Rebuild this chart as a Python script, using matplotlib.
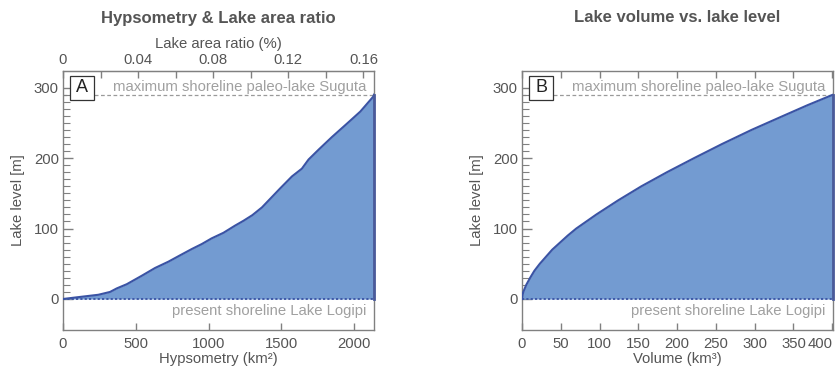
import matplotlib
matplotlib.use("Agg")
import matplotlib.pyplot as plt
from matplotlib.patches import Rectangle
from matplotlib.ticker import FixedLocator
import matplotlib.transforms as mtransforms

plt.rcParams['font.family'] = ['Liberation Sans', 'DejaVu Sans']

# Hypsometric curve: flooded area (km²) against lake level (m above present shoreline)
hyps_level = [0, 3, 6, 10, 15, 21, 33, 44, 53, 62, 71, 78, 86, 94, 104, 111, 119,
              130, 157, 174, 185, 198, 212, 230, 249, 266, 287, 290]
hyps_area = [0, 120, 243, 323, 369, 438, 541, 632, 724, 804, 885, 953, 1020, 1102,
             1180, 1239, 1300, 1366, 1491, 1572, 1640, 1686, 1755, 1847, 1950, 2041,
             2129, 2135]

# Level-volume curve: stored volume (km³) against lake level (m)
vol_level = [0, 5, 10, 20, 30, 40, 50, 60, 70, 80, 90, 100, 120, 140, 160, 180,
             200, 220, 240, 260, 275, 290]
vol_volume = [0, 0.6, 1.7, 5.5, 10.5, 16, 23, 31, 39, 49, 59, 70, 96, 124, 154,
              187, 222, 258, 296, 337, 368, 401]

MAX_SHORELINE = 290          # m, paleo-lake Suguta high stand
CATCHMENT_AREA = 1.289e6     # km², reference area for the ratio axis

area_ticks = [0, 500, 1000, 1500, 2000]
ratio_ticks = [0, 0.04, 0.08, 0.12, 0.16]
ratio_minor = [0.02, 0.06, 0.10, 0.14]
volume_ticks = [0, 50, 100, 150, 200, 250, 300, 350, 400]
level_ticks = [0, 100, 200, 300]
level_minor = [v for v in range(10, 300, 10) if v % 100]

FILL = '#739bd1'
EDGE = '#3a53a4'
RIGHT_EDGE = '#4a5a9a'
SPINE = '#808080'
TEXT = '#555555'
NOTE = '#a0a0a0'
FS = 10.7

fig = plt.figure(figsize=(8.35, 3.72), dpi=100)
axA = fig.add_axes([0.0754, 0.1129, 0.3725, 0.697])
axB = fig.add_axes([0.6251, 0.1129, 0.3725, 0.697])


def style_panel(ax, letter, xmax, xticks, xlabel):
    ax.set_xlim(0, xmax)
    ax.set_ylim(-44, 324)
    for s in ax.spines.values():
        s.set_color(SPINE)
        s.set_linewidth(1.0)
    ax.set_yticks(level_ticks)
    ax.yaxis.set_minor_locator(FixedLocator(level_minor))
    ax.tick_params(axis='y', which='major', direction='in', length=7, width=1,
                   color=SPINE, labelsize=FS, labelcolor=TEXT, pad=3)
    ax.tick_params(axis='y', which='minor', direction='in', length=5, width=0.8,
                   color=SPINE)
    ax.set_xticks(xticks)
    ax.tick_params(axis='x', which='major', direction='in', length=5, width=1,
                   color=SPINE, labelsize=FS, labelcolor=TEXT, pad=5)
    ax.set_xlabel(xlabel, fontsize=FS, color=TEXT, labelpad=1)
    ax.set_ylabel('Lake level [m]', fontsize=FS, color=TEXT, labelpad=6)

    ax.axhline(MAX_SHORELINE, color='#9a9a9a', lw=0.9, ls=(0, (3, 2)), zorder=1)
    ax.axhline(0, color=EDGE, lw=1.3, ls=(0, (1.2, 1.2)), zorder=4)

    tr = mtransforms.blended_transform_factory(ax.transAxes, ax.transData)
    ax.text(0.975, 301, 'maximum shoreline paleo-lake Suguta', transform=tr,
            ha='right', va='center', fontsize=FS, color=NOTE, zorder=5)
    ax.text(0.975, -17, 'present shoreline Lake Logipi', transform=tr,
            ha='right', va='center', fontsize=FS, color=NOTE, zorder=5)

    ax.add_patch(Rectangle((0.0225, 0.888), 0.078, 0.093, transform=ax.transAxes,
                           facecolor='white', edgecolor='#333333', lw=0.9,
                           zorder=6))
    ax.text(0.0615, 0.9345, letter, transform=ax.transAxes, ha='center',
            va='center', fontsize=13, color='#222222', zorder=7)


# Panel A: hypsometry
axA.fill_betweenx(hyps_level, hyps_area, hyps_area[-1], color=FILL, lw=0, zorder=2)
axA.plot(hyps_area, hyps_level, color=EDGE, lw=1.5, zorder=3)
axA.plot([hyps_area[-1], hyps_area[-1]], [0, hyps_level[-1]], color=RIGHT_EDGE,
         lw=2, zorder=3, clip_on=False)
style_panel(axA, 'A', 2135, area_ticks, 'Hypsometry (km²)')

ratio_ax = axA.secondary_xaxis(
    'top',
    functions=(lambda a: a / CATCHMENT_AREA * 100, lambda r: r * CATCHMENT_AREA / 100))
ratio_ax.set_xticks(ratio_ticks)
ratio_ax.set_xticklabels(['0', '0.04', '0.08', '0.12', '0.16'])
ratio_ax.xaxis.set_minor_locator(FixedLocator(ratio_minor))
ratio_ax.tick_params(axis='x', which='both', direction='in', length=5, width=1,
                     color=SPINE, labelsize=FS, labelcolor=TEXT, pad=3)
ratio_ax.spines['top'].set_color(SPINE)
ratio_ax.set_xlabel('Lake area ratio (%)', fontsize=FS, color=TEXT, labelpad=3)

# Panel B: volume
axB.fill_betweenx(vol_level, vol_volume, vol_volume[-1], color=FILL, lw=0, zorder=2)
axB.plot(vol_volume, vol_level, color=EDGE, lw=1.5, zorder=3)
axB.plot([vol_volume[-1], vol_volume[-1]], [0, vol_level[-1]], color=RIGHT_EDGE,
         lw=2, zorder=3, clip_on=False)
style_panel(axB, 'B', 401, volume_ticks, 'Volume (km³)')
axB.tick_params(axis='x', top=True)
# keep the last volume label inside the figure
axB.xaxis.get_major_ticks()[-1].label1.set_horizontalalignment('right')
axB.xaxis.get_major_ticks()[-1].label1.set_x(0)

fig.text(0.2616, 1 - 18 / 372, 'Hypsometry & Lake area ratio', ha='center',
         va='center', fontsize=12, fontweight='bold', color=TEXT)
fig.text(0.8114, 1 - 18 / 372, 'Lake volume vs. lake level', ha='center',
         va='center', fontsize=12, fontweight='bold', color=TEXT)

fig.savefig('out.png', dpi=100)
